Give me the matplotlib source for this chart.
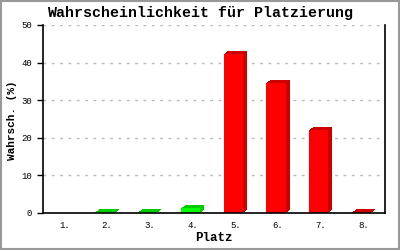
import matplotlib
matplotlib.use('Agg')
import matplotlib.pyplot as plt
import matplotlib.transforms as mtransforms
from matplotlib.patches import Rectangle

# Data
places = ['1.', '2.', '3.', '4.', '5.', '6.', '7.', '8.']
probs = [0.0, 0.2, 0.2, 1.3, 42.4, 34.6, 22.1, 0.2]
front_colors = ['#00ff00', '#00ff00', '#00ff00', '#00ff00',
                '#ff0000', '#ff0000', '#ff0000', '#ff0000']
side_colors = ['#00cc00', '#00cc00', '#00cc00', '#00cc00',
               '#cc0000', '#cc0000', '#cc0000', '#cc0000']
yticks = [0, 10, 20, 30, 40, 50]

plt.rcParams['font.family'] = ['Liberation Mono', 'DejaVu Sans Mono']

fig = plt.figure(figsize=(4, 2.5), dpi=100)
ax = fig.add_axes([0.1075, 0.148, 0.855, 0.752])

x = list(range(len(places)))
xs = [i - 0.05 for i in x]
back_vals = [p if p > 0 else float('nan') for p in probs]

# depth of the 3D bars: darker copies stepped up/right behind the front face
for k in range(1, 5):
    shift = mtransforms.ScaledTranslation(k / 100, 0.75 * k / 100, fig.dpi_scale_trans)
    ax.bar(xs, back_vals, width=0.45, color=side_colors, zorder=2,
           transform=ax.transData + shift)
ax.bar(xs, probs, width=0.45, color=front_colors, zorder=3)

ax.set_xlim(-0.5, 7.5)
ax.set_ylim(0, 50)
ax.set_yticks(yticks)
ax.set_xticks(x)
ax.set_xticklabels(places)
ax.tick_params(axis='x', length=0, pad=6, labelsize=6.5)
ax.tick_params(axis='y', length=4, width=1, pad=4, labelsize=6.5, direction='out')
ax.grid(axis='y', linestyle=(0, (2, 4)), color='#bbbbbb', linewidth=1, zorder=0)
ax.set_axisbelow(True)
ax.spines['top'].set_visible(False)
for s in ['left', 'right', 'bottom']:
    ax.spines[s].set_linewidth(1.2)
    ax.spines[s].set_zorder(4)

fig.text(0.5, 0.948, 'Wahrscheinlichkeit für Platzierung', ha='center', va='center',
         fontsize=10.8, fontweight='bold')
fig.text(0.03, 0.52, 'Wahrsch. (%)', rotation=90, ha='center', va='center',
         fontsize=8, fontweight='bold')
fig.text(0.535, 0.048, 'Platz', ha='center', va='center', fontsize=9, fontweight='bold')

# grey frame around the figure
fig.patches.append(Rectangle((0.0025, 0.004), 0.995, 0.992, transform=fig.transFigure,
                             fill=False, edgecolor='#999999', linewidth=1.5))

plt.savefig('out.png', dpi=100)
